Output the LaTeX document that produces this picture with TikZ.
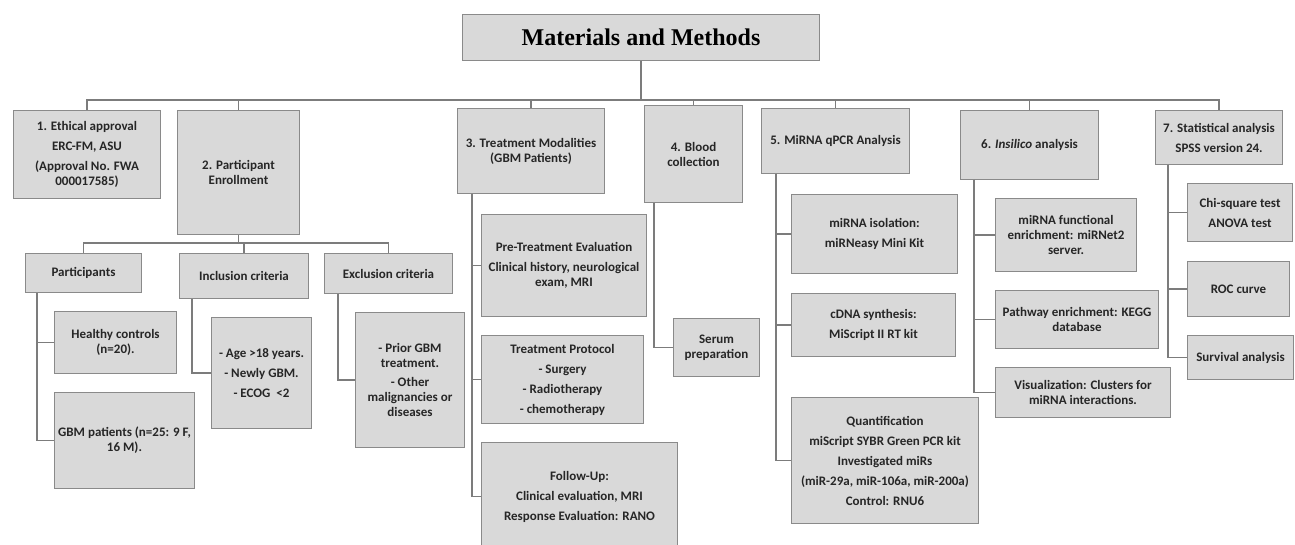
\documentclass[tikz,border=0pt]{standalone}
\usepackage{fontspec}
\setmainfont{Carlito}
\newfontfamily\headfont{Liberation Serif}
\usetikzlibrary{positioning}
\definecolor{boxfill}{HTML}{D9D9D9}
\definecolor{boxline}{HTML}{8A8A8A}
\definecolor{wire}{HTML}{7C7C7C}
\definecolor{ink}{HTML}{262626}
\begin{document}
\begin{tikzpicture}[x=1pt,y=-1pt,
    box/.style 2 args={draw=boxline,fill=boxfill,line width=1pt,anchor=north west,
      minimum width=#1,minimum height=#2,align=center,inner sep=2pt,text=ink,
      font=\fontsize{13}{15}\selectfont\bfseries},
    conn/.style={draw=wire,line width=1.2pt}]
\useasboundingbox (0,0) rectangle (1295,545);
\node[box={357pt}{46pt},font=\fontsize{24}{30}\selectfont\headfont\bfseries,text=black] (title) at (462,14) {Materials and Methods};
\node[box={147pt}{88pt}] (eth) at (13,110) {1. Ethical approval\\[5pt]ERC-FM, ASU\\[5pt](Approval No. FWA\\000017585)};
\node[box={122pt}{124pt}] (enrol) at (177,110) {2. Participant\\Enrollment};
\node[box={147pt}{85pt}] (treat) at (457,108) {3. Treatment Modalities\\(GBM Patients)};
\node[box={98pt}{97pt}] (blood) at (644,105) {4. Blood\\collection};
\node[box={148pt}{65pt}] (qpcr) at (761,108) {5. MiRNA qPCR Analysis};
\node[box={138pt}{69pt}] (insil) at (960,110) {6. \textit{Insilico} analysis};
\node[box={127pt}{54pt}] (stat) at (1155,110) {7. Statistical analysis\\[5pt]SPSS version 24.};
\node[box={116pt}{39pt}] (partic) at (25,253) {Participants};
\node[box={129pt}{45pt}] (incl) at (179,253) {Inclusion criteria};
\node[box={128pt}{40pt}] (excl) at (324,253) {Exclusion criteria};
\node[box={122pt}{62pt}] (healthy) at (54,311) {Healthy controls\\(n=20).};
\node[box={140pt}{96pt}] (gbm) at (54,392) {GBM patients (n=25: 9 F,\\16 M).};
\node[box={100pt}{111pt}] (inclc) at (211,317) {- Age >18 years.\\[5pt]- Newly GBM.\\[5pt]- ECOG \ <2};
\node[box={109pt}{135pt}] (exclc) at (355,312) {- Prior GBM\\treatment.\\[4pt]- Other\\malignancies or\\diseases};
\node[box={165pt}{102pt}] (pre) at (481,214) {Pre-Treatment Evaluation\\[5pt]Clinical history, neurological\\exam, MRI};
\node[box={162pt}{88pt}] (prot) at (481,335) {Treatment Protocol\\[5pt]- Surgery\\[5pt]- Radiotherapy\\[5pt]- chemotherapy};
\node[box={196pt}{108pt}] (fup) at (481,442) {Follow-Up:\\[5pt]Clinical evaluation, MRI\\[5pt]Response Evaluation: RANO};
\node[box={86pt}{58pt}] (serum) at (673,318) {Serum\\preparation};
\node[box={166pt}{79pt}] (iso) at (791,194) {miRNA isolation:\\[5pt]miRNeasy Mini Kit};
\node[box={164pt}{63pt}] (cdna) at (791,293) {cDNA synthesis:\\[5pt]MiScript II RT kit};
\node[box={187pt}{126pt}] (quant) at (791,397) {Quantification\\[5pt]miScript SYBR Green PCR kit\\[5pt]Investigated miRs\\[5pt](miR-29a, miR-106a, miR-200a)\\[5pt]Control: RNU6};
\node[box={141pt}{73pt}] (func) at (995,198) {miRNA functional\\enrichment: miRNet2\\server.};
\node[box={163pt}{58pt}] (path) at (995,290) {Pathway enrichment: KEGG\\database};
\node[box={175pt}{50pt}] (vis) at (995,367) {Visualization: Clusters for\\miRNA interactions.};
\node[box={105pt}{58pt}] (chi) at (1187,183) {Chi-square test\\[5pt]ANOVA test};
\node[box={102pt}{55pt}] (roc) at (1187,261) {ROC curve};
\node[box={106pt}{44pt}] (surv) at (1187,335) {Survival analysis};
\coordinate (bus) at (0,100);
\coordinate (bus2) at (0,243);
\draw[conn] (title.south) -- (title.south |- bus);
\draw[conn] (eth.north) -- (eth.north |- bus) -- (stat.north |- bus) -- (stat.north);
\foreach \n in {enrol,treat,blood,qpcr,insil}
  \draw[conn] (\n.north) -- (\n.north |- bus);
\draw[conn] (enrol.south) -- (enrol.south |- bus2);
\draw[conn] (partic.north) -- (partic.north |- bus2) -- (excl.north |- bus2) -- (excl.north);
\draw[conn] (incl.north) -- (incl.north |- bus2);
\foreach \p/\s/\c in {partic/12/healthy,partic/12/gbm,incl/13/inclc,excl/14/exclc,
    treat/15/pre,treat/15/prot,treat/15/fup,blood/10/serum,qpcr/15/iso,qpcr/15/cdna,
    qpcr/15/quant,insil/14/func,insil/14/path,insil/14/vis,stat/13/chi,stat/13/roc,stat/13/surv}
  \draw[conn] ([xshift=\s pt]\p.south west) |- (\c.west);
\end{tikzpicture}
\end{document}
